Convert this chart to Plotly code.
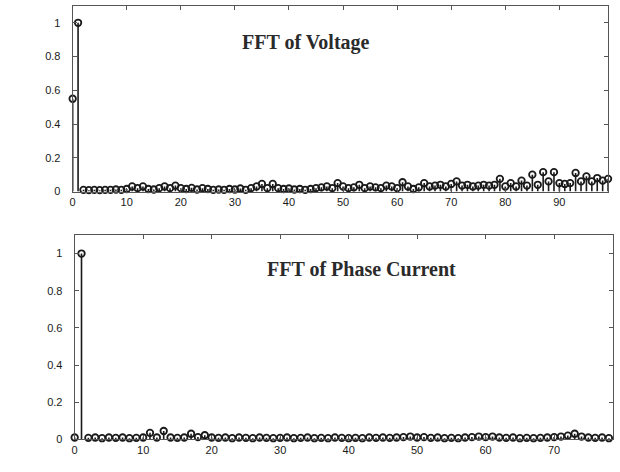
import plotly.graph_objects as go

# ---- data ----
voltage_fft = [
    0.55, 1.0, 0.010, 0.008, 0.010, 0.008, 0.010, 0.010, 0.012, 0.010,
    0.015, 0.030, 0.020, 0.030, 0.015, 0.012, 0.020, 0.030, 0.020, 0.035,
    0.020, 0.015, 0.022, 0.012, 0.020, 0.015, 0.010, 0.012, 0.010, 0.015,
    0.012, 0.018, 0.010, 0.020, 0.030, 0.045, 0.020, 0.045, 0.020, 0.015,
    0.018, 0.012, 0.015, 0.010, 0.015, 0.020, 0.025, 0.030, 0.020, 0.050,
    0.030, 0.020, 0.025, 0.040, 0.020, 0.030, 0.025, 0.020, 0.035, 0.030,
    0.020, 0.055, 0.030, 0.015, 0.025, 0.050, 0.030, 0.035, 0.040, 0.030,
    0.045, 0.060, 0.035, 0.040, 0.030, 0.035, 0.040, 0.035, 0.040, 0.075,
    0.030, 0.050, 0.030, 0.065, 0.035, 0.100, 0.040, 0.115, 0.060, 0.115,
    0.050, 0.045, 0.050, 0.110, 0.060, 0.090, 0.060, 0.080, 0.065, 0.075,
]
current_fft = [
    0.010, 1.0, 0.008, 0.010, 0.006, 0.010, 0.008, 0.010, 0.006, 0.008,
    0.010, 0.035, 0.010, 0.045, 0.010, 0.008, 0.010, 0.030, 0.012, 0.022,
    0.010, 0.008, 0.010, 0.006, 0.010, 0.008, 0.006, 0.010, 0.008, 0.006,
    0.008, 0.010, 0.006, 0.008, 0.010, 0.006, 0.008, 0.006, 0.010, 0.008,
    0.006, 0.008, 0.006, 0.010, 0.008, 0.010, 0.008, 0.010, 0.012, 0.015,
    0.010, 0.012, 0.008, 0.010, 0.006, 0.008, 0.006, 0.010, 0.012, 0.015,
    0.012, 0.015, 0.010, 0.008, 0.010, 0.006, 0.008, 0.006, 0.008, 0.010,
    0.012, 0.015, 0.020, 0.030, 0.015, 0.010, 0.008, 0.010, 0.006, 0.008,
]
y_ticks = [0, 0.2, 0.4, 0.6, 0.8, 1]
y_tick_labels = ["0", "0.2", "0.4", "0.6", "0.8", "1"]
volt_x_ticks = [0, 10, 20, 30, 40, 50, 60, 70, 80, 90]
curr_x_ticks = [0, 10, 20, 30, 40, 50, 60, 70]
title_voltage = "FFT of Voltage"
title_current = "FFT of Phase Current"

W, H = 620, 472
STEM = "#1a1a1a"


def stem_traces(values, xa, ya):
    xs, ys = [], []
    for i, v in enumerate(values):
        xs += [i, i, None]
        ys += [0, v, None]
    lines = go.Scatter(x=xs, y=ys, mode="lines", xaxis=xa, yaxis=ya,
                       line=dict(color=STEM, width=1.6), hoverinfo="skip",
                       showlegend=False)
    marks = go.Scatter(x=list(range(len(values))), y=values, mode="markers",
                       xaxis=xa, yaxis=ya, showlegend=False, cliponaxis=False,
                       marker=dict(symbol="circle-open", size=6.5, color=STEM,
                                   line=dict(width=1.8, color=STEM)))
    return [lines, marks]


fig = go.Figure()
for t in stem_traces(voltage_fft, "x", "y"):
    fig.add_trace(t)
for t in stem_traces(current_fft, "x2", "y2"):
    fig.add_trace(t)

font_tick = dict(family="Liberation Sans, Arial", size=11, color="#1a1a1a")
axis_common = dict(showline=True, linecolor="#555", linewidth=1, mirror="ticks",
                   ticks="inside", ticklen=4, tickcolor="#555", showgrid=False,
                   zeroline=False, tickfont=font_tick)

fig.update_layout(
    width=W, height=H, margin=dict(l=0, r=0, t=0, b=0),
    paper_bgcolor="white", plot_bgcolor="white", showlegend=False,
    xaxis=dict(domain=[70 / W, 608 / W], range=[0, 99], tickvals=volt_x_ticks,
               anchor="y", **axis_common),
    yaxis=dict(domain=[1 - 194 / H, 1 - 6 / H], range=[0, 1.1], tickvals=y_ticks,
               ticktext=y_tick_labels, anchor="x", ticklabelstandoff=9, **axis_common),
    xaxis2=dict(domain=[72 / W, 613 / W], range=[0, 78.6], tickvals=curr_x_ticks,
                anchor="y2", **axis_common),
    yaxis2=dict(domain=[1 - 445 / H, 1 - 238 / H], range=[0, 1.1], tickvals=y_ticks,
                ticktext=y_tick_labels, anchor="x2", ticklabelstandoff=9, **axis_common),
)

title_font = dict(family="Liberation Serif, Times New Roman", size=20, color="#2a2a2a")
fig.add_annotation(text="<b>" + title_voltage + "</b>", xref="paper", yref="paper",
                   x=304 / W, y=1 - 43 / H, xanchor="center", yanchor="middle",
                   showarrow=False, font=title_font)
fig.add_annotation(text="<b>" + title_current + "</b>", xref="paper", yref="paper",
                   x=360 / W, y=1 - 272 / H, xanchor="center", yanchor="middle",
                   showarrow=False, font=title_font)

fig.write_html("out.html")
